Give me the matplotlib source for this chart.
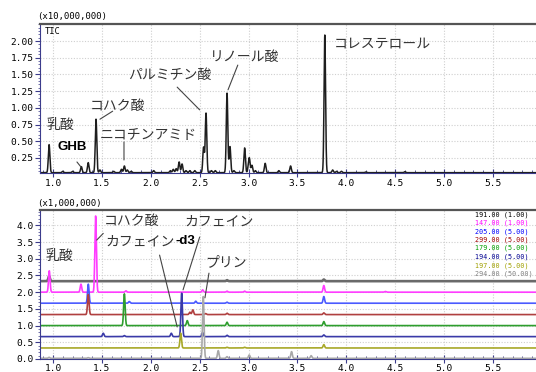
import numpy as np
import matplotlib
matplotlib.use("Agg")
import matplotlib.pyplot as plt
from matplotlib.ticker import MultipleLocator, FixedLocator

# ---------------- data ----------------
# Top panel: TIC, units of 10,000,000
tic_rt = [0.96, 1.10, 1.20, 1.29, 1.36, 1.44, 1.48, 1.62, 1.70, 1.73, 1.76, 1.80,
          2.03, 2.20, 2.23, 2.26, 2.29, 2.32, 2.36, 2.40, 2.45, 2.54, 2.565, 2.62,
          2.66, 2.78, 2.81, 2.85, 2.96, 3.00, 3.01, 3.035, 3.07, 3.17, 3.31, 3.43,
          3.78, 3.86, 3.90, 3.95, 4.20, 4.60]
tic_ht = [0.42, 0.02, 0.02, 0.09, 0.15, 0.80, 0.04, 0.02, 0.05, 0.10, 0.04, 0.02,
          0.03, 0.03, 0.05, 0.06, 0.16, 0.13, 0.03, 0.03, 0.03, 0.38, 0.89, 0.03,
          0.03, 1.19, 0.39, 0.03, 0.37, 0.10, 0.17, 0.11, 0.03, 0.14, 0.03, 0.10,
          2.06, 0.04, 0.02, 0.02, 0.01, 0.015]
tic_base = 0.03

# Bottom panel: ion traces, units of 1,000,000
ion_labels = ["191.00", "147.00", "205.00", "299.00", "179.00", "194.00", "197.00", "294.00"]
ion_factor = ["(1.00)", "(1.00)", "(5.00)", "(5.00)", "(5.00)", "(5.00)", "(5.00)", "(50.00)"]
ion_offset = [2.33, 2.00, 1.67, 1.33, 1.00, 0.67, 0.33, 0.02]
ion_rt = [
    [0.96, 2.78, 3.77],
    [0.962, 1.286, 1.436, 1.746, 2.53, 2.78, 2.96, 3.77, 4.40],
    [1.361, 1.78, 2.46, 2.78, 3.77],
    [1.361, 2.40, 2.43, 2.56, 2.78, 3.77],
    [1.73, 2.373, 2.78, 3.77],
    [1.514, 1.73, 2.21, 2.316, 2.53, 2.78, 3.77],
    [2.306, 2.78, 2.96, 3.77],
    [0.96, 1.36, 2.537, 2.69, 2.78, 3.007, 3.44, 3.64],
]
ion_ht = [
    [0.15, 0.03, 0.05],
    [0.64, 0.24, 2.28, 0.04, 0.07, 0.03, 0.03, 0.20, 0.02],
    [0.57, 0.05, 0.06, 0.03, 0.20],
    [0.60, 0.07, 0.14, 0.03, 0.04, 0.05],
    [0.95, 0.15, 0.10, 0.12],
    [0.10, 0.03, 0.10, 1.30, 0.12, 0.04, 0.05],
    [0.44, 0.02, 0.02, 0.10],
    [0.03, 0.02, 1.85, 0.23, 0.05, 0.10, 0.20, 0.08],
]
ion_colors = ["#6a6a6a", "#ff3cff", "#4a5aff", "#b04040", "#2e9e2e", "#3a3aa8", "#a8a828", "#a8a8a8"]
ion_text_colors = ["#000000", "#ff00ff", "#0000ff", "#a00000", "#00a000", "#000090", "#a0a000", "#808080"]

top_yticks = [0.25, 0.50, 0.75, 1.00, 1.25, 1.50, 1.75, 2.00]
bot_yticks = [0.0, 0.5, 1.0, 1.5, 2.0, 2.5, 3.0, 3.5, 4.0]
xticks = [1.0, 1.5, 2.0, 2.5, 3.0, 3.5, 4.0, 4.5, 5.0, 5.5]

# ---------------- drawing ----------------
W, H = 536, 372
fig = plt.figure(figsize=(W / 100, H / 100), dpi=100)
fig.patch.set_facecolor("white")

JP = ["Noto Sans CJK JP", "DejaVu Sans"]
MONO = "DejaVu Sans Mono"

def fx(px):
    return px / W

def fy(py):
    return 1 - py / H

ax1 = fig.add_axes([fx(40), fy(173), 1 - fx(40), fy(24) - fy(173)])
ax2 = fig.add_axes([fx(40), fy(359), 1 - fx(40), fy(210) - fy(359)])

t = np.arange(0.85, 5.96, 0.0005)
SIG = 0.0078

def trace(rts, hts, base):
    y = np.full_like(t, base)
    for r, h in zip(rts, hts):
        y += h * np.exp(-0.5 * ((t - r) / SIG) ** 2)
    return y

XLIM = (0.867, 5.94)

for ax in (ax1, ax2):
    ax.set_xlim(*XLIM)
    ax.xaxis.set_major_locator(FixedLocator(xticks))
    ax.xaxis.set_minor_locator(MultipleLocator(0.1))
    ax.grid(True, which="major", color="#cfcfcf", linestyle=(0, (1, 1.5)), linewidth=0.8)
    ax.set_axisbelow(True)
    ax.spines["right"].set_visible(False)
    ax.spines["top"].set_color("#555555")
    ax.spines["top"].set_linewidth(1.6)
    ax.spines["left"].set_color("#3c3c8c")
    ax.spines["bottom"].set_color("#3c3c8c")
    ax.tick_params(axis="x", which="major", direction="inout", length=6, width=0.8,
                   color="#3c3c8c", pad=1.5)
    ax.tick_params(axis="x", which="minor", direction="in", length=2.5, width=0.6,
                   color="#3c3c8c")
    ax.tick_params(axis="y", which="major", direction="out", length=3.5, width=0.8,
                   color="#3c3c8c", pad=1)
    ax.tick_params(axis="y", which="minor", direction="out", length=1.5, width=0.5,
                   color="#3c3c8c")

# top panel
ax1.set_ylim(0.025, 2.255)
ax1.yaxis.set_major_locator(FixedLocator(top_yticks))
ax1.yaxis.set_minor_locator(MultipleLocator(0.05))
ax1.set_yticklabels([f"{v:.2f}" for v in top_yticks], fontfamily=MONO, fontsize=6.8)
ax1.set_xticklabels([f"{v:.1f}" for v in xticks], fontfamily=MONO, fontsize=6.8)
ax1.plot(t, trace(tic_rt, tic_ht, tic_base), color="#1e1e1e", linewidth=1.1)

# bottom panel
ax2.set_ylim(0.0, 4.46)
ax2.yaxis.set_major_locator(FixedLocator(bot_yticks))
ax2.yaxis.set_minor_locator(MultipleLocator(0.1))
ax2.set_yticklabels([f"{v:.1f}" for v in bot_yticks], fontfamily=MONO, fontsize=6.8)
ax2.set_xticklabels([f"{v:.1f}" for v in xticks], fontfamily=MONO, fontsize=6.8)
ax2.tick_params(axis="x", which="major", pad=0.5)
for i in range(len(ion_labels)):
    lw = 1.9 if i == 0 else 1.2
    ax2.plot(t, trace(ion_rt[i], ion_ht[i], ion_offset[i]), color=ion_colors[i],
             linewidth=lw)

# scale labels
fig.text(fx(37), fy(17), "(x10,000,000)", fontfamily=MONO, fontsize=6.5, va="center", ha="left")
fig.text(fx(37), fy(204), "(x1,000,000)", fontfamily=MONO, fontsize=6.5, va="center", ha="left")
fig.text(fx(45), fy(32), "TIC", fontfamily=MONO, fontsize=6.3, va="center", ha="left")

# legend
leg_y = [215, 223, 232, 240, 248, 257, 266, 274]
for i in range(len(ion_labels)):
    fig.text(fx(475), fy(leg_y[i]), f"{ion_labels[i]} {ion_factor[i]}", fontfamily=MONO,
             fontsize=4.9, color=ion_text_colors[i], va="center", ha="left")

TXT = "#333333"
LN = dict(arrowstyle="-", color="#444444", lw=0.8, shrinkA=0, shrinkB=0)
FS = 10

# top annotations
ax1.text(1.08, 0.74, "乳酸", fontfamily=JP, fontsize=FS, color=TXT, ha="center", va="center")
ax1.text(1.20, 0.41, "GHB", fontfamily="Liberation Sans", fontweight="bold", fontsize=9.5,
         color="black", ha="center", va="center")
ax1.annotate("", xy=(1.286, 0.115), xytext=(1.245, 0.19), arrowprops=LN)
ax1.text(1.665, 1.03, "コハク酸", fontfamily=JP, fontsize=FS, color=TXT, ha="center", va="center")
ax1.annotate("", xy=(1.48, 0.83), xytext=(1.61, 0.95), arrowprops=LN)
ax1.text(1.97, 0.59, "ニコチンアミド", fontfamily=JP, fontsize=FS, color=TXT, ha="center", va="center")
ax1.annotate("", xy=(1.726, 0.22), xytext=(1.726, 0.49), arrowprops=LN)
ax1.text(2.196, 1.49, "パルミチン酸", fontfamily=JP, fontsize=FS, color=TXT, ha="center", va="center")
ax1.annotate("", xy=(2.50, 0.97), xytext=(2.27, 1.31), arrowprops=LN)
ax1.text(2.96, 1.76, "リノール酸", fontfamily=JP, fontsize=FS, color=TXT, ha="center", va="center")
ax1.annotate("", xy=(2.79, 1.27), xytext=(2.89, 1.64), arrowprops=LN)
ax1.text(4.37, 1.97, "コレステロール", fontfamily=JP, fontsize=FS, color=TXT, ha="center", va="center")

# bottom annotations
ax2.text(1.07, 3.08, "乳酸", fontfamily=JP, fontsize=FS, color=TXT, ha="center", va="center")
ax2.text(1.80, 4.13, "コハク酸", fontfamily=JP, fontsize=FS, color=TXT, ha="center", va="center")
ax2.annotate("", xy=(1.447, 3.56), xytext=(1.514, 3.76), arrowprops=LN)
ax2.text(2.25, 3.53, "カフェイン", fontfamily=JP, fontsize=FS, color=TXT, ha="right", va="center")
ax2.text(2.25, 3.53, "-d3", fontfamily="Liberation Sans", fontweight="bold", fontsize=9.5,
         color="black", ha="left", va="center")
ax2.annotate("", xy=(2.27, 0.96), xytext=(2.09, 3.11), arrowprops=LN)
ax2.text(2.70, 4.10, "カフェイン", fontfamily=JP, fontsize=FS, color=TXT, ha="center", va="center")
ax2.annotate("", xy=(2.33, 2.07), xytext=(2.50, 3.65), arrowprops=LN)
ax2.text(2.77, 2.90, "プリン", fontfamily=JP, fontsize=FS, color=TXT, ha="center", va="center")
ax2.annotate("", xy=(2.554, 1.83), xytext=(2.595, 2.57), arrowprops=LN)

fig.savefig("out.png", dpi=100, facecolor="white")
